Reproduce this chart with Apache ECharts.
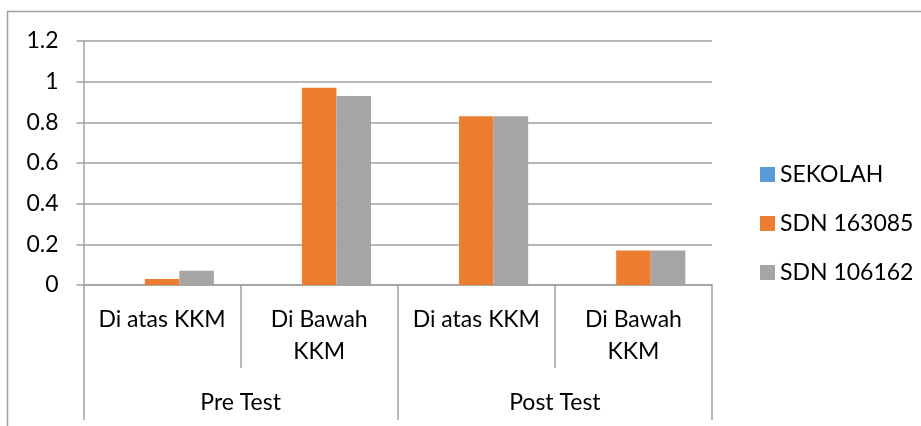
<!DOCTYPE html>
<html>
<head>
<meta charset="utf-8">
<script src="https://cdn.jsdelivr.net/npm/echarts@6/dist/echarts.min.js"></script>
<style>html,body{margin:0;padding:0;background:#fff}#c{width:921px;height:426px}</style>
</head>
<body>
<div id="c"></div>
<script>
var categories = ['Di atas KKM', 'Di Bawah\nKKM', 'Di atas KKM', 'Di Bawah\nKKM'];
var groups = ['Pre Test', 'Post Test'];
var seriesNames = ['SEKOLAH', 'SDN 163085', 'SDN 106162'];
var sekolah = [0, 0, 0, 0];
var sdn163085 = [0.03, 0.97, 0.83, 0.17];
var sdn106162 = [0.07, 0.93, 0.83, 0.17];
var yTicks = { min: 0, max: 1.2, interval: 0.2 };

var FONT = 'Lato';
var LINE = '#a0a0a0';
var chart = echarts.init(document.getElementById('c'), null, { renderer: 'canvas' });
chart.setOption({
  animation: false,
  color: ['#5b9bd5', '#ed7d31', '#a5a5a5'],
  textStyle: { fontFamily: FONT },
  graphic: [{
    type: 'rect', silent: true,
    shape: { x: 7.5, y: 11.5, width: 1000, height: 1000 },
    style: { fill: 'none', stroke: LINE, lineWidth: 1.5 }
  }],
  grid: { left: 83.5, right: 209, top: 41, bottom: 141, containLabel: false },
  legend: {
    orient: 'vertical', left: 755, top: 158,
    itemWidth: 15, itemHeight: 15, itemGap: 26,
    icon: 'rect',
    data: seriesNames,
    textStyle: { fontFamily: FONT, fontSize: 23, color: '#000', lineHeight: 22 }
  },
  xAxis: [{
    type: 'category', data: categories, position: 'bottom',
    axisLine: { lineStyle: { color: LINE, width: 1.5 } },
    axisTick: { show: true, interval: 0, length: 83, lineStyle: { color: LINE, width: 1.5 } },
    axisLabel: { interval: 0, margin: 19, fontSize: 23, color: '#000', lineHeight: 32, fontFamily: FONT, align: 'center' },
    splitLine: { show: false }
  }, {
    type: 'category', data: groups, position: 'bottom', offset: 0,
    axisLine: { show: false },
    axisTick: { show: true, interval: 0, length: 135, lineStyle: { color: LINE, width: 1.5 } },
    axisLabel: { interval: 0, margin: 102, fontSize: 23, color: '#000', lineHeight: 32, fontFamily: FONT },
    splitLine: { show: false }
  }],
  yAxis: {
    type: 'value', min: yTicks.min, max: yTicks.max, interval: yTicks.interval,
    axisLine: { show: true, lineStyle: { color: LINE, width: 1.5 } },
    axisTick: { show: true, length: 7, lineStyle: { color: LINE, width: 1.5 } },
    axisLabel: { margin: 25, fontSize: 23, color: '#000', fontFamily: FONT },
    splitLine: { show: true, lineStyle: { color: LINE, width: 1.5 } }
  },
  series: [
    { name: seriesNames[0], type: 'bar', data: sekolah, barGap: '0%', barCategoryGap: '34%' },
    { name: seriesNames[1], type: 'bar', data: sdn163085, barGap: '0%', barCategoryGap: '34%' },
    { name: seriesNames[2], type: 'bar', data: sdn106162, barGap: '0%', barCategoryGap: '34%' }
  ]
});
</script>
</body>
</html>
